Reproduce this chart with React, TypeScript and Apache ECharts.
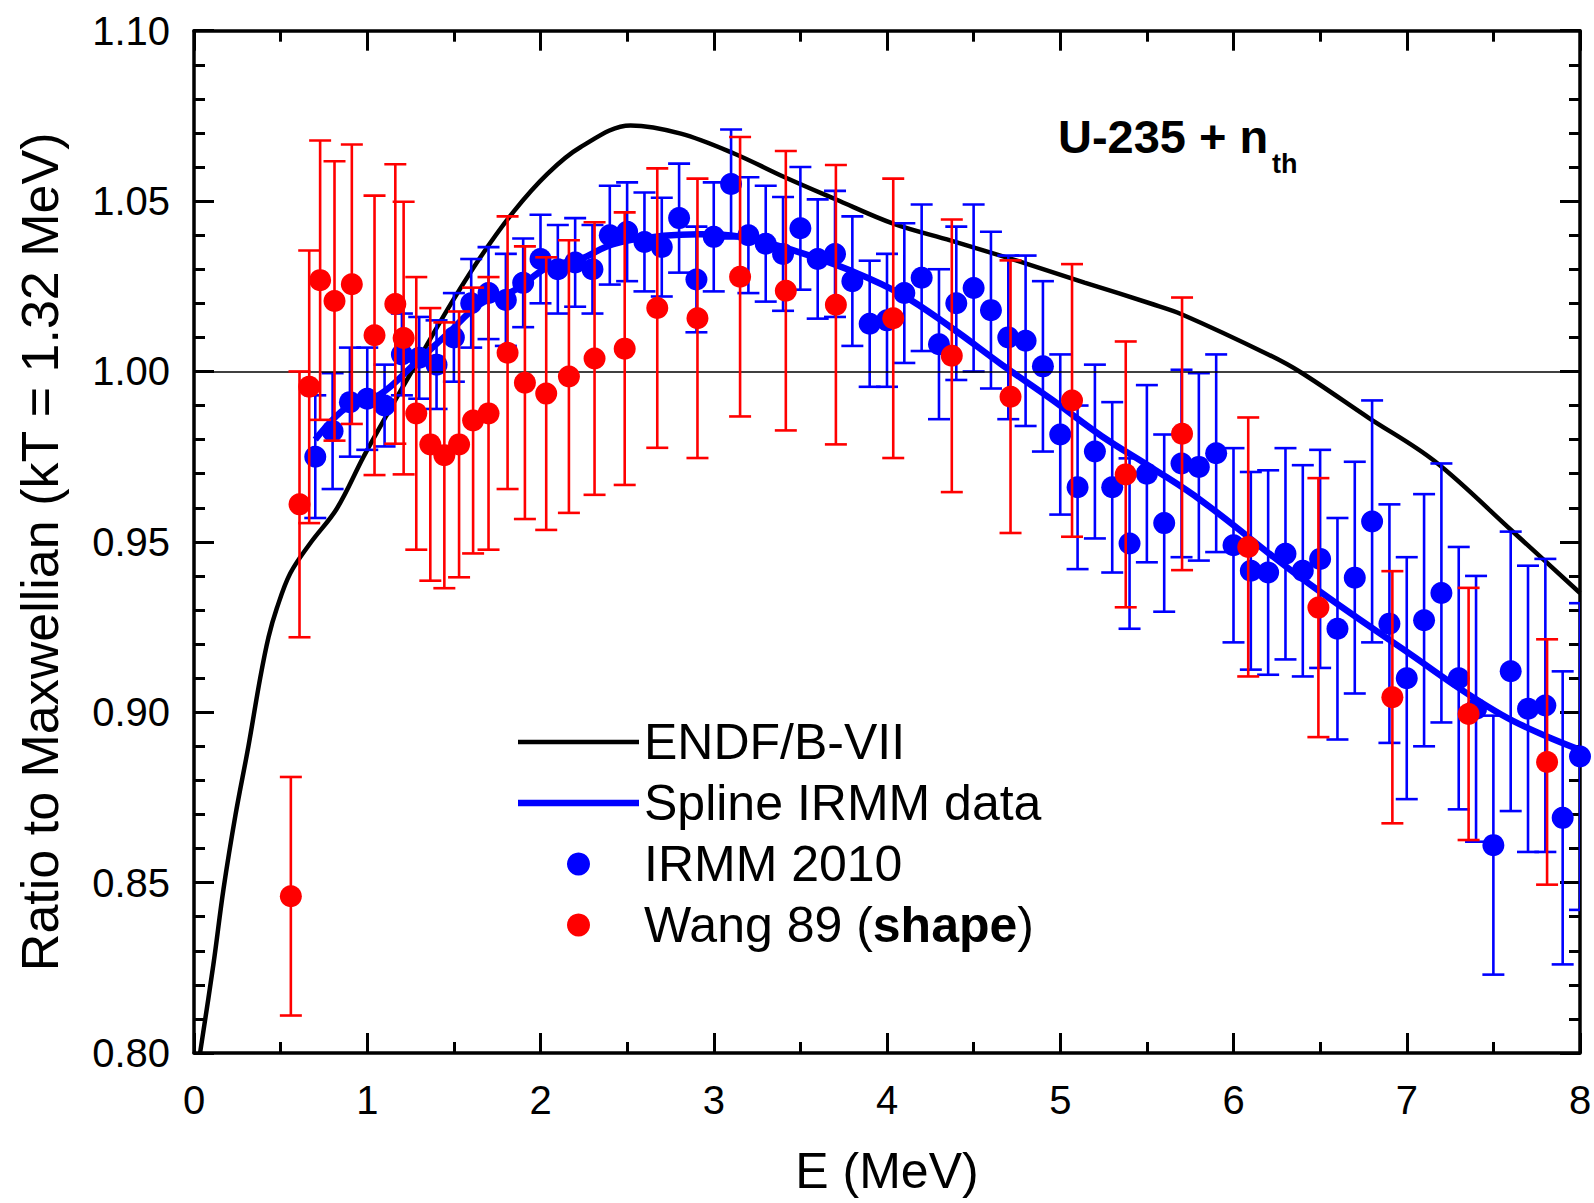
import React, { useEffect, useRef } from "react";
import * as echarts from "echarts";

const FONT = "'Liberation Sans', Arial, Helvetica, sans-serif";

// IRMM 2010 data points (E in MeV, ratio, 1-sigma error)
const irmmE = [
  0.7, 0.8, 0.9, 1.0, 1.1, 1.2, 1.3, 1.4, 1.5, 1.6, 1.7, 1.8, 1.9, 2.0, 2.1, 2.2, 2.3, 2.4, 2.5, 2.6,
  2.7, 2.8, 2.9, 3.0, 3.1, 3.2, 3.3, 3.4, 3.5, 3.6, 3.7, 3.8, 3.9, 4.0, 4.1, 4.2, 4.3, 4.4, 4.5, 4.6,
  4.7, 4.8, 4.9, 5.0, 5.1, 5.2, 5.3, 5.4, 5.5, 5.6, 5.7, 5.8, 5.9, 6.0, 6.1, 6.2, 6.3, 6.4, 6.5, 6.6,
  6.7, 6.8, 6.9, 7.0, 7.1, 7.2, 7.3, 7.4, 7.5, 7.6, 7.7, 7.8, 7.9, 8.0,
];
const irmmV = [
  0.975, 0.9825, 0.991, 0.992, 0.99, 1.005, 1.004, 1.002, 1.01, 1.02, 1.023, 1.021, 1.026, 1.033, 1.03, 1.032, 1.03, 1.04, 1.041, 1.038,
  1.0365, 1.045, 1.027, 1.0395, 1.055, 1.04, 1.0375, 1.0345, 1.042, 1.033, 1.0345, 1.0265, 1.014, 1.015, 1.023, 1.0275, 1.008, 1.02, 1.0245, 1.018,
  1.01, 1.009, 1.0015, 0.9815, 0.966, 0.9765, 0.966, 0.9495, 0.97, 0.9555, 0.973, 0.972, 0.976, 0.949, 0.9415, 0.941, 0.9465, 0.9415, 0.945, 0.9245,
  0.9395, 0.956, 0.926, 0.91, 0.927, 0.935, 0.91, 0.901, 0.861, 0.912, 0.901, 0.902, 0.869, 0.887,
];
const irmmErr = [
  0.018, 0.017, 0.016, 0.015, 0.012, 0.012, 0.012, 0.013, 0.013, 0.013, 0.0135, 0.0135, 0.013, 0.013, 0.013, 0.013, 0.013, 0.0145, 0.0145, 0.0145,
  0.0145, 0.016, 0.0155, 0.016, 0.016, 0.017, 0.017, 0.0167, 0.018, 0.0175, 0.0185, 0.019, 0.0185, 0.0195, 0.0205, 0.0215, 0.022, 0.0225, 0.0245, 0.023,
  0.024, 0.025, 0.025, 0.0235, 0.024, 0.0255, 0.025, 0.025, 0.026, 0.026, 0.0275, 0.0275, 0.029, 0.0285, 0.029, 0.03, 0.031, 0.031, 0.032, 0.0325,
  0.034, 0.0355, 0.035, 0.0355, 0.037, 0.038, 0.0385, 0.039, 0.038, 0.041, 0.042, 0.043, 0.043, 0.045,
];

// Wang 89 (shape)
const wangE = [
  0.559, 0.609, 0.665, 0.728, 0.811, 0.911, 1.042, 1.162, 1.21, 1.283, 1.364, 1.445, 1.53, 1.611, 1.7, 1.81, 1.91, 2.033, 2.164,
  2.312, 2.486, 2.674, 2.906, 3.152, 3.416, 3.705, 4.036, 4.374, 4.713, 5.068, 5.378, 5.703, 6.085, 6.49, 6.917, 7.357, 7.81,
];
const wangV = [
  0.846, 0.961, 0.9955, 1.0268, 1.0207, 1.0256, 1.0106, 1.0198, 1.0098, 0.9877, 0.9786, 0.9754, 0.9786, 0.9856, 0.9877, 1.0055, 0.9967, 0.9935, 0.9985,
  1.0038, 1.0067, 1.0186, 1.0156, 1.0278, 1.0237, 1.0196, 1.0156, 1.0046, 0.9926, 0.9915, 0.9698, 0.9817, 0.9485, 0.9307, 0.9044, 0.8995, 0.8854,
];
const wangErr = [
  0.035, 0.039, 0.04, 0.041, 0.041, 0.041, 0.041, 0.041, 0.04, 0.04, 0.04, 0.039, 0.039, 0.039, 0.04, 0.04, 0.04, 0.04, 0.04,
  0.04, 0.04, 0.041, 0.041, 0.041, 0.041, 0.041, 0.041, 0.04, 0.04, 0.04, 0.039, 0.04, 0.038, 0.038, 0.037, 0.037, 0.036,
];

// ENDF/B-VII curve
const endfE = [
  0.035, 0.112, 0.17, 0.24, 0.314, 0.382, 0.43, 0.478, 0.555, 0.671, 0.825, 0.979, 1.11, 1.268, 1.461, 1.653, 1.846, 2.04, 2.23,
  2.52, 2.81, 3.12, 3.41, 3.7, 4.04, 4.37, 4.75, 5.14, 5.53, 5.7, 6.2, 6.39, 6.78, 7.16, 7.61, 8.0,
];
const endfV = [
  0.8, 0.826, 0.848, 0.87, 0.89, 0.91, 0.922, 0.9305, 0.9407, 0.9496, 0.9598, 0.975, 0.987, 1.001, 1.018, 1.0335, 1.047, 1.058, 1.0658,
  1.0722, 1.0698, 1.0639, 1.057, 1.0506, 1.0433, 1.0384, 1.0325, 1.0261, 1.0198, 1.0168, 1.005, 0.9997, 0.9864, 0.9737, 0.9531, 0.935,
];

// Spline through IRMM data
const splineE = [
  0.7, 0.88, 1.075, 1.27, 1.46, 1.653, 1.846, 2.04, 2.23, 2.42, 2.71, 2.92, 3.18, 3.5, 3.79, 4.08, 4.37, 4.66, 4.95, 5.24,
  5.53, 5.82, 6.39, 6.97, 7.55, 8.0,
];
const splineV = [
  0.98, 0.9894, 0.9933, 1.0021, 1.0109, 1.0198, 1.0237, 1.0305, 1.033, 1.0374, 1.0398, 1.0403, 1.0393, 1.0349, 1.0296, 1.0227, 1.0129, 1.0021, 0.9918, 0.981,
  0.9717, 0.9619, 0.9394, 0.9188, 0.8992, 0.889,
];

const legendNames = ["ENDF/B-VII", "Spline IRMM data", "IRMM 2010", "Wang 89 (shape)"];

function errorBarSeries(name: string, color: string, xs: number[], ys: number[], es: number[]) {
  return {
    type: "custom",
    name,
    clip: true,
    silent: true,
    encode: { x: 0, y: [1, 2] },
    data: xs.map((x, i) => [x, ys[i] - es[i], ys[i] + es[i]]),
    renderItem: (_params: any, api: any) => {
      const x = api.value(0);
      const lo = api.coord([x, api.value(1)]);
      const hi = api.coord([x, api.value(2)]);
      const w = 11;
      const style = { stroke: color, lineWidth: 2.6, fill: "none" };
      return {
        type: "group",
        children: [
          { type: "line", shape: { x1: hi[0], y1: hi[1], x2: lo[0], y2: lo[1] }, style },
          { type: "line", shape: { x1: hi[0] - w, y1: hi[1], x2: hi[0] + w, y2: hi[1] }, style },
          { type: "line", shape: { x1: lo[0] - w, y1: lo[1], x2: lo[0] + w, y2: lo[1] }, style },
        ],
      };
    },
  };
}

export default function App() {
  const ref = useRef<HTMLDivElement>(null);
  useEffect(() => {
    const chart = echarts.init(ref.current!, null, { renderer: "svg" });
    const axisLine = { show: true, onZero: false, lineStyle: { color: "#000", width: 3.5 } };
    const axisTick = { show: true, inside: true, length: 20, lineStyle: { color: "#000", width: 3 } };
    const minorLine = { color: "#000", width: 3 };
    const labelStyle = { color: "#000", fontSize: 40, fontFamily: FONT };
    const option: any = {
      animation: false,
      backgroundColor: "#fff",
      grid: { left: 194, right: 14, top: 30.7, bottom: 150, containLabel: false, outerBoundsMode: "none" },
      xAxis: [
        {
          type: "value", min: 0, max: 8, interval: 1, position: "bottom",
          axisLine, axisTick,
          minorTick: { show: true, splitNumber: 2, length: 11, lineStyle: minorLine },
          splitLine: { show: false },
          axisLabel: { ...labelStyle, margin: 27 },
          name: "E (MeV)", nameLocation: "middle", nameGap: 93,
          nameTextStyle: { color: "#000", fontSize: 50, fontFamily: FONT },
        },
        {
          type: "value", min: 0, max: 8, interval: 1, position: "top",
          axisLine, axisTick,
          minorTick: { show: true, splitNumber: 2, length: 11, lineStyle: minorLine },
          splitLine: { show: false },
          axisLabel: { show: false },
        },
      ],
      yAxis: [
        {
          type: "value", min: 0.8, max: 1.1, interval: 0.05, position: "left",
          axisLine, axisTick,
          minorTick: { show: true, splitNumber: 5, length: 11, lineStyle: minorLine },
          splitLine: { show: false },
          axisLabel: { ...labelStyle, margin: 24, formatter: (v: number) => v.toFixed(2) },
          name: "Ratio to Maxwellian (kT = 1.32 MeV)", nameLocation: "middle", nameGap: 128,
          nameTextStyle: { color: "#000", fontSize: 52, fontFamily: FONT, padding: [0, 20, 0, 0] },
        },
        {
          type: "value", min: 0.8, max: 1.1, interval: 0.05, position: "right",
          axisLine, axisTick,
          minorTick: { show: true, splitNumber: 5, length: 11, lineStyle: minorLine },
          splitLine: { show: false },
          axisLabel: { show: false },
        },
      ],
      legend: {
        data: [
          { name: legendNames[0], icon: "path://M0,0H121V4.5H0Z" },
          { name: legendNames[1], icon: "path://M0,0H121V6.5H0Z" },
          { name: legendNames[2], icon: "circle" },
          { name: legendNames[3], icon: "circle" },
        ],
        orient: "vertical",
        left: 518,
        top: 717,
        padding: 0,
        itemWidth: 121,
        itemHeight: 23,
        itemGap: 11,
        selectedMode: false,
        textStyle: {
          color: "#000", fontSize: 50, fontFamily: FONT,
          rich: { b: { color: "#000", fontSize: 50, fontFamily: FONT, fontWeight: "bold" } },
        },
        formatter: (name: string) => (name === "Wang 89 (shape)" ? "Wang 89 ({b|shape})" : name),
      },
      graphic: [
        {
          type: "text", x: 1058, y: 136, silent: true,
          style: { text: "U-235 + n", fill: "#000", fontSize: 47, fontWeight: "bold", fontFamily: FONT, verticalAlign: "middle", align: "left" },
        },
        {
          type: "text", x: 1272, y: 164, silent: true,
          style: { text: "th", fill: "#000", fontSize: 27, fontWeight: "bold", fontFamily: FONT, verticalAlign: "middle", align: "left" },
        },
      ],
      series: [
        {
          type: "line", name: "ENDF/B-VII", data: endfE.map((x, i) => [x, endfV[i]]),
          symbol: "none", smooth: 0.35, lineStyle: { color: "#000", width: 4.5 }, itemStyle: { color: "#000" },
          z: 2,
          markLine: {
            silent: true, symbol: ["none", "none"], label: { show: false },
            lineStyle: { color: "#000", width: 1.5, type: "solid" },
            data: [{ yAxis: 1.0 }],
          },
        },
        { ...errorBarSeries("IRMM 2010 err", "#0000ff", irmmE, irmmV, irmmErr), z: 3 },
        {
          type: "scatter", name: "IRMM 2010", data: irmmE.map((x, i) => [x, irmmV[i]]),
          symbol: "circle", symbolSize: 22, itemStyle: { color: "#0000ff", opacity: 1 }, z: 4,
        },
        {
          type: "line", name: "Spline IRMM data", data: splineE.map((x, i) => [x, splineV[i]]),
          symbol: "none", smooth: 0.4, lineStyle: { color: "#0000ff", width: 6.5 }, itemStyle: { color: "#0000ff" }, z: 5,
        },
        { ...errorBarSeries("Wang 89 err", "#ff0000", wangE, wangV, wangErr), z: 6 },
        {
          type: "scatter", name: "Wang 89 (shape)", data: wangE.map((x, i) => [x, wangV[i]]),
          symbol: "circle", symbolSize: 22, itemStyle: { color: "#ff0000", opacity: 1 }, z: 7,
        },
      ],
    };
    chart.setOption(option);
    return () => chart.dispose();
  }, []);
  return (
    <div
      ref={ref}
      style={{ position: "absolute", left: 0, top: 0, width: 1594, height: 1203 }}
    />
  );
}
